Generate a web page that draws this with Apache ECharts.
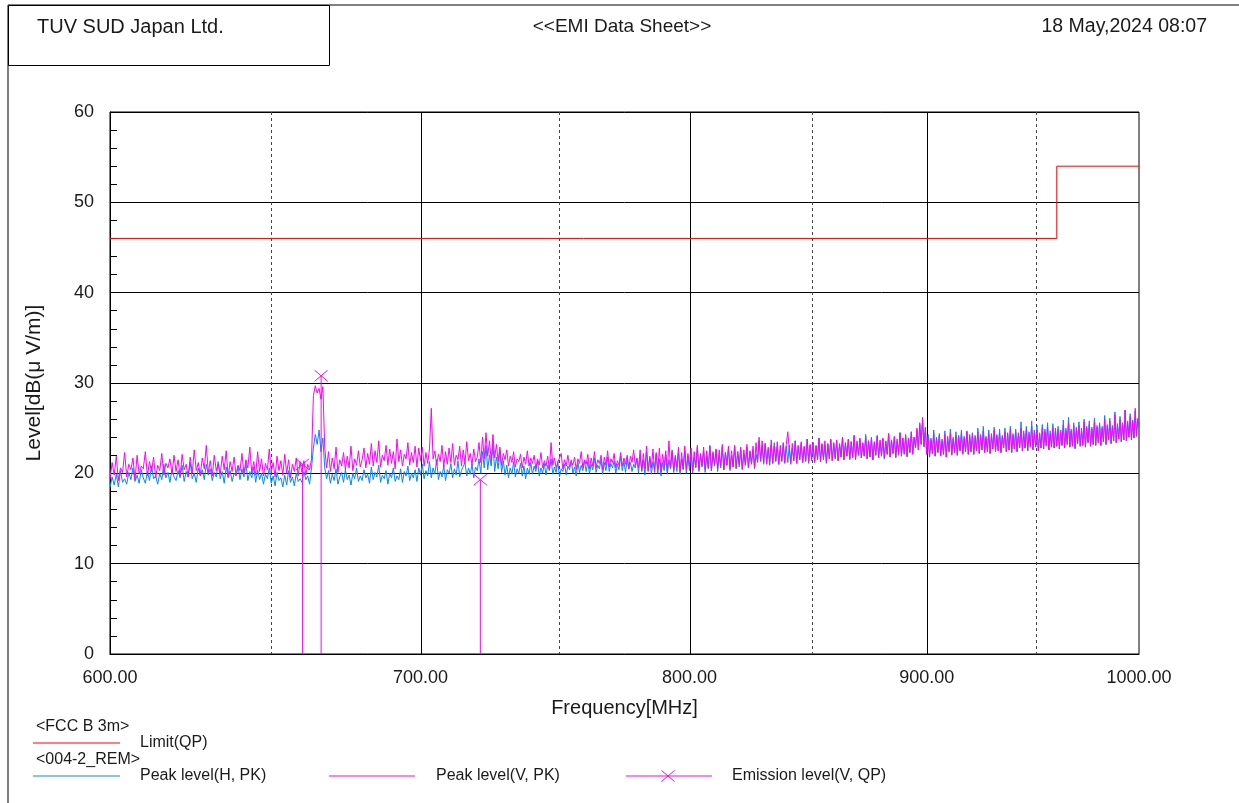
<!DOCTYPE html>
<html>
<head>
<meta charset="utf-8">
<script src="https://cdn.jsdelivr.net/npm/echarts@6/dist/echarts.min.js"></script>
<style>
  html, body { margin: 0; padding: 0; background: #ffffff; }
  #chart { width: 1239px; height: 803px; }
</style>
</head>
<body>
<div id="chart"></div>
<script>
// Sweep grid of the receiver: 600 MHz to 1000 MHz in 0.625 MHz steps
const sweepStart = 600;
const sweepStep = 0.625;

// Peak level, horizontal polarisation [dB(uV/m)], one row per 20 MHz
const peakH = [
  18.4,19.6,18.7,19.9,18.5,20.3,19.0,19.4, 18.8,20.1,19.3,20.6,19.1,19.8,18.9,20.4, 19.5,18.9,20.2,19.2,20.8,19.4,19.7,18.8, 20.0,19.3,21.0,19.5,20.1,19.0,20.5,19.6,
  19.2,20.3,19.5,20.9,19.1,20.2,19.6,21.2, 19.4,20.0,19.0,20.6,19.7,20.4,19.3,21.0, 19.8,20.5,19.2,20.1,19.6,21.3,19.4,20.2, 18.9,20.7,19.5,20.3,19.1,20.0,19.7,20.8,
  19.3,20.5,19.6,21.1,19.2,20.2,19.5,20.7, 19.0,20.4,19.3,20.0,18.8,19.9,19.4,20.6, 18.9,19.7,18.6,20.1,19.2,19.5,18.5,19.8, 18.7,20.3,19.0,19.6,18.6,20.0,19.1,19.4,
  19.0,20.2,19.3,19.7,18.8,20.6,22.8,24.3, 23.2,24.8,22.4,23.9,20.6,19.4,20.3,18.9, 19.9,19.2,20.5,18.8,19.6,20.1,19.0,20.4, 19.3,19.8,18.7,20.0,19.4,20.6,19.1,19.7,
  19.2,20.4,19.5,19.9,18.9,20.7,19.3,20.1, 19.6,20.9,19.0,19.8,19.4,20.3,18.8,20.0, 19.5,20.6,19.1,19.7,19.3,20.5,19.0,20.2, 19.7,20.8,19.2,20.0,19.5,20.4,19.1,20.6,
  19.8,21.0,19.4,20.3,19.7,21.3,19.5,20.6, 19.9,21.5,19.3,20.2,19.6,20.9,19.2,20.4, 20.0,21.1,19.5,20.5,19.8,21.4,19.6,20.3, 20.1,21.2,19.7,20.6,19.9,21.0,19.5,20.7,
  20.3,21.6,20.0,22.4,20.6,23.1,20.4,22.0, 20.8,23.3,20.2,21.8,20.5,22.6,20.1,21.4, 19.8,20.9,19.5,20.6,19.9,21.3,19.6,20.5, 20.0,21.1,19.7,20.8,19.4,20.6,19.9,21.2,
  19.9,20.8,20.2,21.4,19.7,20.6,20.0,21.1, 19.8,20.9,20.3,21.6,19.9,20.7,20.1,21.3, 19.6,20.5,20.2,21.0,19.8,20.8,20.4,21.5, 20.0,20.7,19.7,21.2,20.1,20.9,20.3,21.4,
  20.2,21.3,20.0,21.0,20.4,21.7,20.1,20.9, 20.5,21.5,19.9,21.2,20.3,21.8,20.2,21.1, 20.6,21.4,20.0,21.0,20.4,21.9,20.3,21.3, 20.1,21.6,20.5,21.2,20.2,21.0,20.6,21.7,
  20.0,21.9,20.3,21.5,19.8,22.4,20.2,21.7, 19.9,21.3,20.4,22.1,20.0,21.6,19.7,21.2, 20.3,22.0,19.9,21.5,20.5,22.6,20.1,21.8, 20.2,22.3,19.9,21.6,20.4,22.5,20.0,21.9,
  20.3,22.1,20.0,21.8,20.6,22.9,20.2,22.0, 20.7,22.4,20.1,21.9,20.5,23.1,20.3,22.2, 20.8,22.6,20.2,22.0,20.6,22.9,20.4,22.3, 20.9,22.7,20.3,22.0,20.7,23.0,20.5,22.4,
  20.7,22.5,20.4,22.2,20.9,22.9,20.6,22.4, 21.0,22.6,20.5,22.1,21.2,23.6,21.3,23.0, 21.0,23.3,21.2,22.7,20.9,23.1,21.1,23.4, 21.3,22.9,21.0,22.6,21.4,23.3,21.1,23.0,
  21.2,23.1,21.0,22.8,21.4,23.6,21.1,23.0, 21.5,23.3,21.2,22.9,21.3,23.8,21.1,23.1, 21.4,23.4,21.2,23.0,21.6,23.9,21.3,23.2, 21.5,23.1,21.1,23.3,21.7,23.7,21.4,23.4,
  21.6,23.5,21.4,23.2,21.8,24.0,21.5,23.3, 21.9,23.7,21.5,23.5,21.7,24.2,21.6,23.4, 22.0,23.8,21.7,23.3,21.9,24.3,21.6,23.6, 21.8,23.9,21.5,23.4,22.0,24.1,21.7,23.5,
  21.9,23.8,21.6,23.5,22.1,24.4,21.8,23.7, 22.2,24.0,21.7,23.6,22.0,24.5,21.9,23.9, 22.1,24.1,21.8,23.8,22.3,24.6,22.2,24.0, 22.8,24.8,22.6,25.4,23.2,25.9,23.0,25.1,
  22.1,24.3,21.8,23.9,22.2,24.8,21.9,24.0, 22.3,24.4,22.0,23.8,22.1,24.7,21.8,24.1, 22.4,24.9,22.1,24.0,22.3,24.6,22.0,24.2, 22.5,24.8,22.2,24.1,22.4,24.7,22.1,24.3,
  22.4,24.5,22.1,24.2,22.5,25.0,22.2,24.3, 22.6,25.2,22.3,24.1,22.4,24.8,22.2,24.4, 22.7,25.1,22.4,24.3,22.5,24.9,22.3,24.2, 22.8,25.0,22.4,24.5,22.6,25.2,22.3,24.4,
  22.7,24.9,22.4,24.5,22.9,25.7,22.5,24.7, 22.8,25.2,22.5,24.6,23.0,25.8,22.6,24.8, 22.9,25.3,22.5,24.5,22.8,25.4,22.7,24.9, 23.1,25.6,22.6,24.7,22.9,25.5,22.8,25.0,
  23.0,25.2,22.7,24.8,23.1,25.9,22.8,25.0, 23.2,26.2,22.9,24.9,23.0,25.6,22.7,25.1, 23.3,25.7,23.0,25.0,23.1,26.0,22.9,25.2, 23.4,25.8,23.0,25.1,23.2,26.1,23.1,25.3,
  23.4,25.6,23.1,25.2,23.5,26.4,23.2,25.4, 23.7,26.1,23.3,25.3,23.6,26.8,23.4,25.5, 23.8,26.3,23.5,25.6,23.7,27.0,23.6,25.8, 24.0,26.6,23.7,25.9,23.9,26.9,24.1,26.1,
  25.1
];

// Peak level, vertical polarisation [dB(uV/m)], one row per 20 MHz
const peakV = [
  19.4,21.2,19.8,21.9,19.2,20.6,20.1,22.3, 19.6,21.0,20.4,21.7,19.3,22.0,19.9,20.8, 20.5,22.4,19.7,21.3,20.2,21.8,19.5,20.9, 20.3,22.2,19.8,21.1,20.6,21.6,19.9,22.0,
  20.2,21.5,19.7,22.1,20.4,21.0,19.6,21.8, 20.0,22.6,20.3,21.2,19.8,21.7,20.5,23.1, 20.1,21.4,19.7,22.0,20.3,21.1,19.9,21.9, 20.4,22.5,19.6,21.3,20.2,21.8,19.8,20.9,
  20.3,22.2,19.9,21.5,20.6,22.9,20.0,21.3, 19.8,22.4,20.2,21.6,19.7,21.1,20.4,22.7, 20.1,21.2,19.6,21.9,20.3,21.4,19.8,22.1, 20.0,21.5,19.5,21.0,20.2,21.7,19.7,21.3,
  20.1,21.4,19.8,21.0,20.4,21.6,28.6,29.7, 28.9,29.4,28.2,29.6,22.8,20.6,22.4,20.2, 21.7,20.5,22.9,20.1,21.5,20.8,22.3,20.4, 21.9,20.6,23.0,20.3,21.6,20.9,22.5,20.7,
  21.5,22.8,20.6,22.2,21.0,23.3,20.8,22.5, 21.2,23.6,20.7,22.0,21.4,23.1,20.9,22.7, 21.1,22.4,20.5,23.8,21.3,22.6,20.8,22.1, 21.6,23.4,20.9,22.3,21.2,23.0,20.7,22.8,
  21.4,22.9,20.8,22.3,21.1,22.7,27.2,21.6, 22.5,20.9,22.1,21.3,23.1,20.7,22.4,21.0, 22.8,21.2,23.3,20.9,22.0,21.5,23.0,20.8, 22.6,21.1,23.5,21.4,22.2,20.9,22.7,21.3,
  21.8,23.4,21.2,24.0,21.6,24.5,21.9,23.6, 21.4,24.3,21.7,23.2,21.3,22.9,20.9,22.2, 21.5,22.6,20.8,21.9,21.2,22.4,20.7,21.6, 21.3,22.1,20.6,21.8,21.0,22.5,20.8,21.7,
  21.1,22.0,20.5,21.6,20.9,22.3,20.6,21.4, 20.8,21.9,20.4,23.4,20.9,21.7,20.6,21.2, 21.0,22.2,20.5,21.5,20.8,22.0,20.7,21.3, 20.9,21.8,20.4,21.6,21.1,22.4,20.6,21.5,
  21.0,22.1,20.5,21.7,20.8,22.4,20.6,21.5, 21.1,22.0,20.4,21.8,20.9,22.5,20.7,21.6, 21.2,22.2,20.6,21.4,20.9,22.3,20.8,21.7, 21.0,22.0,20.5,21.9,21.2,22.6,20.9,21.6,
  20.6,22.6,20.2,22.2,20.5,23.0,20.3,21.9, 20.6,22.7,20.1,22.3,20.4,22.8,20.2,22.1, 20.8,22.5,20.2,23.6,20.6,22.4,20.3,22.0, 20.7,22.9,20.2,22.3,20.5,23.0,20.4,22.2,
  20.8,22.8,20.3,22.4,20.7,23.1,20.4,22.2, 20.9,22.9,20.4,22.5,20.6,23.0,20.3,22.4, 21.0,22.7,20.5,22.6,20.8,23.2,20.4,22.3, 20.9,23.0,20.5,22.5,20.7,23.1,20.6,22.4,
  21.0,22.9,20.5,22.6,20.9,23.2,20.6,22.5, 21.1,23.0,20.7,23.4,21.3,24.0,21.4,23.6, 21.2,23.3,21.0,22.9,21.3,23.7,21.1,23.0, 21.4,23.5,21.0,23.1,21.3,23.4,21.2,23.2,
  24.6,22.7,21.2,23.3,21.4,23.6,21.1,23.1, 21.5,23.5,21.2,23.0,21.4,23.8,21.3,23.2, 21.6,23.4,21.2,23.1,21.5,23.9,21.3,23.3, 21.7,23.6,21.3,23.2,21.6,23.8,21.4,23.3,
  21.7,23.7,21.4,23.3,21.8,24.0,21.5,23.4, 21.9,23.8,21.6,23.5,21.8,24.2,21.5,23.6, 22.0,23.9,21.7,23.4,21.9,24.1,21.6,23.6, 21.8,24.0,21.5,23.5,22.0,24.2,21.7,23.7,
  22.0,23.9,21.7,23.6,22.1,24.4,21.8,23.7, 22.2,24.1,21.8,23.8,22.1,24.5,21.9,23.9, 22.2,24.3,21.9,23.9,22.3,24.6,22.1,24.0, 22.8,25.0,22.6,25.6,23.2,26.2,22.9,25.1,
  22.1,24.0,21.8,23.7,22.2,24.4,21.9,23.8, 22.3,24.2,21.9,23.6,22.1,24.3,21.8,23.9, 22.4,24.5,22.0,23.8,22.3,24.2,22.0,24.0, 22.5,24.4,22.1,23.9,22.4,24.6,22.1,24.1,
  22.4,24.3,22.1,24.0,22.5,24.6,22.2,24.1, 22.6,24.7,22.3,23.9,22.4,24.4,22.2,24.2, 22.7,24.8,22.4,24.1,22.5,24.5,22.3,24.0, 22.8,24.6,22.4,24.3,22.6,24.9,22.3,24.2,
  22.7,24.6,22.4,24.2,22.8,25.0,22.5,24.4, 22.8,24.9,22.5,24.3,22.9,25.2,22.6,24.5, 22.9,24.8,22.5,24.3,22.8,25.0,22.7,24.6, 23.0,25.1,22.6,24.4,22.9,25.1,22.8,24.7,
  23.0,24.9,22.7,24.6,23.1,25.4,22.8,24.7, 23.2,25.6,22.9,24.7,23.0,25.3,22.8,24.9, 23.3,25.3,23.0,24.8,23.1,25.7,22.9,25.0, 23.4,25.4,23.0,24.9,23.2,25.8,23.1,25.1,
  23.4,25.4,23.1,25.0,23.5,26.0,23.2,25.2, 23.7,25.8,23.3,25.1,23.6,26.5,23.4,25.3, 23.8,26.0,23.5,25.4,23.7,27.0,23.6,25.6, 24.0,26.3,23.7,25.7,23.9,27.2,24.1,25.9,
  25.5
];

// FCC Class B, 3 m quasi-peak limit
const limitFreqs = [600, 960, 960, 1000];
const limitLevels = [46, 46, 54, 54];

// Final quasi-peak measurements, vertical polarisation
const qpFreqs = [660.2, 666.3, 721.1];
const qpLevels = [21.0, 30.8, 19.3];

// Frequency axis labels and grid
const freqTicks = [600, 700, 800, 900, 1000];
const solidGridFreqs = [700, 800, 900];
const dashedGridFreqs = [650, 750, 850, 950];

const lg = Math.log10;
const FONT = '"Liberation Sans", Arial, sans-serif';
const TXT = '#1a1a1a';
const MAGENTA = '#ff00ff';
const BLUE = '#0a84ff';

const toPoints = (vals) => vals.map((v, i) => [lg(sweepStart + i * sweepStep), v]);

// full-height vertical grid line at a frequency
const gridLine = (stroke, dash) => (params, api) => {
  const bot = api.coord([api.value(0), 0]);
  const top = api.coord([api.value(0), 60]);
  const x = Math.round(bot[0]) + 0.5;
  return {
    type: 'line',
    shape: { x1: x, y1: top[1], x2: x, y2: bot[1] },
    style: { stroke: stroke, lineWidth: 1, lineDash: dash }
  };
};

const chart = echarts.init(document.getElementById('chart'), null, { renderer: 'canvas' });

const legendY1 = 743, legendY2 = 776;

chart.setOption({
  animation: false,
  backgroundColor: '#ffffff',
  grid: { left: 110, right: 100, top: 112, bottom: 149, show: true, borderColor: '#000', borderWidth: 1 },
  xAxis: {
    type: 'value',
    min: lg(600),
    max: lg(1000),
    name: 'Frequency[MHz]',
    nameLocation: 'middle',
    nameGap: 44,
    nameTextStyle: { fontFamily: FONT, fontSize: 20, color: TXT },
    axisLine: { show: true, lineStyle: { color: '#000', width: 1 } },
    axisTick: { show: false },
    splitLine: { show: false },
    axisLabel: {
      customValues: freqTicks.map(lg),
      showMinLabel: true,
      showMaxLabel: true,
      formatter: v => Math.pow(10, v).toFixed(2),
      fontFamily: FONT, fontSize: 18, color: TXT, margin: 15
    }
  },
  yAxis: {
    type: 'value',
    min: 0,
    max: 60,
    interval: 10,
    name: 'Level[dB(\u03bc V/m)]',
    nameLocation: 'middle',
    nameGap: 65,
    nameRotate: 90,
    nameTextStyle: { fontFamily: FONT, fontSize: 21, color: TXT },
    axisLine: { show: true, lineStyle: { color: '#000', width: 1 } },
    axisTick: { show: true, inside: true, length: 7, lineStyle: { color: '#000' } },
    minorTick: { show: true, splitNumber: 5, length: 7, lineStyle: { color: '#000' } },
    splitLine: { show: true, lineStyle: { color: '#000', width: 1 } },
    axisLabel: { fontFamily: FONT, fontSize: 18, color: TXT, margin: 16 }
  },
  series: [
    {
      type: 'custom',
      z: 1,
      silent: true,
      data: solidGridFreqs.map(f => [lg(f)]),
      renderItem: gridLine('#000', null)
    },
    {
      type: 'custom',
      z: 1,
      silent: true,
      data: dashedGridFreqs.map(f => [lg(f)]),
      renderItem: gridLine('#444', [3, 3])
    },
    {
      name: 'Peak level(H, PK)',
      type: 'line',
      z: 2,
      data: toPoints(peakH),
      symbol: 'none',
      lineStyle: { color: BLUE, width: 1 }
    },
    {
      name: 'Peak level(V, PK)',
      type: 'line',
      z: 3,
      data: toPoints(peakV),
      symbol: 'none',
      lineStyle: { color: MAGENTA, width: 1 }
    },
    {
      name: 'Limit(QP)',
      type: 'line',
      z: 4,
      data: limitFreqs.map((f, i) => [lg(f), limitLevels[i]]),
      symbol: 'none',
      lineStyle: { color: '#ff0000', width: 1 }
    },
    {
      name: 'Emission level(V, QP)',
      type: 'custom',
      z: 5,
      data: qpFreqs.map((f, i) => [lg(f), qpLevels[i]]),
      renderItem: (params, api) => {
        const top = api.coord([api.value(0), api.value(1)]);
        const bot = api.coord([api.value(0), 0]);
        const s = 6.5;
        const st = { stroke: MAGENTA, lineWidth: 1 };
        return {
          type: 'group',
          children: [
            { type: 'line', shape: { x1: top[0], y1: top[1], x2: bot[0], y2: bot[1] }, style: st },
            { type: 'line', shape: { x1: top[0] - s, y1: top[1] - s * 0.85, x2: top[0] + s, y2: top[1] + s * 0.85 }, style: st },
            { type: 'line', shape: { x1: top[0] - s, y1: top[1] + s * 0.85, x2: top[0] + s, y2: top[1] - s * 0.85 }, style: st }
          ]
        };
      }
    }
  ],
  graphic: [
    // page frame and header box
    { type: 'line', shape: { x1: 8, y1: 5, x2: 8, y2: 803 }, style: { stroke: '#808080', lineWidth: 2 } },
    { type: 'line', shape: { x1: 8, y1: 5, x2: 1239, y2: 5 }, style: { stroke: '#808080', lineWidth: 2 } },
    { type: 'rect', shape: { x: 8.5, y: 5.5, width: 321, height: 60 }, style: { fill: 'none', stroke: '#000', lineWidth: 1 } },
    { type: 'text', x: 37, y: 27, style: { text: 'TUV SUD Japan Ltd.', font: '20px ' + FONT, fill: TXT, verticalAlign: 'middle' } },
    { type: 'text', x: 622, y: 27, style: { text: '<<EMI Data Sheet>>', font: '19px ' + FONT, fill: TXT, align: 'center', verticalAlign: 'middle' } },
    { type: 'text', x: 1207, y: 27, style: { text: '18 May,2024 08:07', font: '19.5px ' + FONT, fill: TXT, align: 'right', verticalAlign: 'middle' } },
    // legend
    { type: 'text', x: 36, y: 727, style: { text: '<FCC B 3m>', font: '16px ' + FONT, fill: TXT, verticalAlign: 'middle' } },
    { type: 'line', shape: { x1: 33, y1: legendY1, x2: 120, y2: legendY1 }, style: { stroke: '#ff0000', lineWidth: 1 } },
    { type: 'text', x: 140, y: legendY1, style: { text: 'Limit(QP)', font: '16px ' + FONT, fill: TXT, verticalAlign: 'middle' } },
    { type: 'text', x: 36, y: 760, style: { text: '<004-2_REM>', font: '16px ' + FONT, fill: TXT, verticalAlign: 'middle' } },
    { type: 'line', shape: { x1: 33, y1: legendY2, x2: 120, y2: legendY2 }, style: { stroke: BLUE, lineWidth: 1 } },
    { type: 'text', x: 140, y: legendY2, style: { text: 'Peak level(H, PK)', font: '16px ' + FONT, fill: TXT, verticalAlign: 'middle' } },
    { type: 'line', shape: { x1: 329, y1: legendY2, x2: 415, y2: legendY2 }, style: { stroke: MAGENTA, lineWidth: 1 } },
    { type: 'text', x: 436, y: legendY2, style: { text: 'Peak level(V, PK)', font: '16px ' + FONT, fill: TXT, verticalAlign: 'middle' } },
    { type: 'line', shape: { x1: 626, y1: legendY2, x2: 712, y2: legendY2 }, style: { stroke: MAGENTA, lineWidth: 1 } },
    { type: 'line', shape: { x1: 661.5, y1: legendY2 - 5.5, x2: 674.5, y2: legendY2 + 5.5 }, style: { stroke: MAGENTA, lineWidth: 1 } },
    { type: 'line', shape: { x1: 661.5, y1: legendY2 + 5.5, x2: 674.5, y2: legendY2 - 5.5 }, style: { stroke: MAGENTA, lineWidth: 1 } },
    { type: 'text', x: 732, y: legendY2, style: { text: 'Emission level(V, QP)', font: '16px ' + FONT, fill: TXT, verticalAlign: 'middle' } }
  ]
});
</script>
</body>
</html>
